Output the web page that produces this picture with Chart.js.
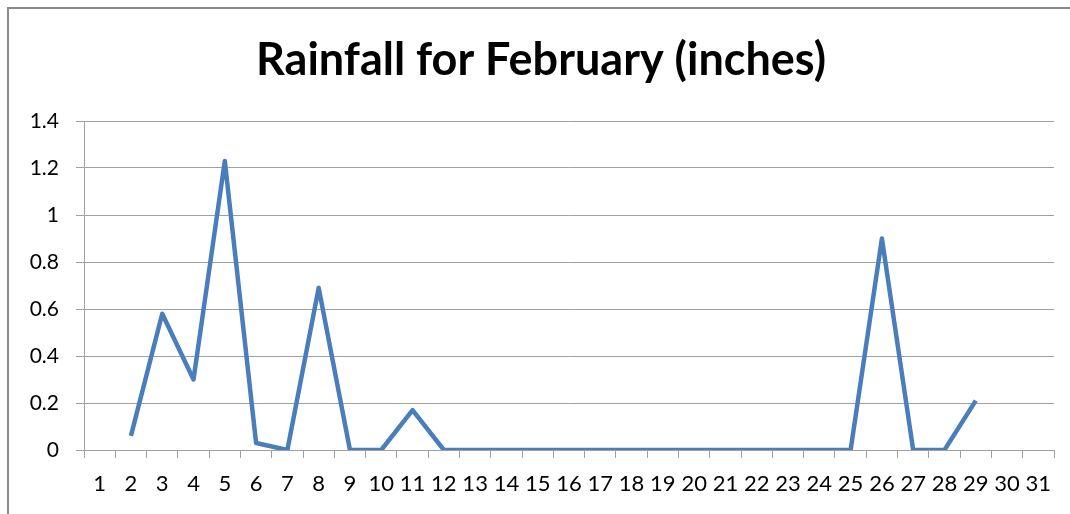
<!DOCTYPE html>
<html>
<head>
<meta charset="utf-8">
<script src="https://cdn.jsdelivr.net/npm/chart.js@4"></script>
<style>
html, body { margin:0; padding:0; background:#fff; }
#wrap { position:relative; width:1070px; height:514px; overflow:hidden; }
#frame { position:absolute; left:7px; top:7px; width:1100px; height:600px;
         border-left:2px solid #8a8a8a; border-top:2px solid #8a8a8a; }
#rainChart { position:absolute; left:0; top:0; }
</style>
</head>
<body>
<div id="wrap">
  <div id="frame"></div>
  <canvas id="rainChart" width="1070" height="514"></canvas>
</div>
<script>
const days = [];
for (let d = 1; d <= 31; d++) days.push(String(d));

// inches per day (no data for 1, 30, 31)
const rainfall = [null, 0.06, 0.58, 0.30, 1.23, 0.03, 0, 0.69, 0, 0,
                  0.17, 0, 0, 0, 0, 0, 0, 0, 0, 0,
                  0, 0, 0, 0, 0, 0.90, 0, 0, 0.21, null, null];

const yMin = 0, yMax = 1.4, yStep = 0.2;

const chart = new Chart(document.getElementById('rainChart'), {
    type:'line',
    data:{
        labels:days,
        datasets:[{
            label:'Rainfall',
            data:rainfall,
            borderColor:'#4a7ebb',
            borderWidth:4.5,
            borderJoinStyle:'round',
            pointRadius:0,
            tension:0,
            fill:false
        }]
    },
    options:{
        responsive:false,
        animation:false,
        layout:{ padding:{ left:28, right:16, top:0, bottom:0 } },
        plugins:{
            legend:{ display:false },
            tooltip:{ enabled:false },
            title:{
                display:true,
                text:'Rainfall for February (inches)',
                color:'#000',
                font:{ family:'Lato', size:45, weight:'bold' },
                padding:{ top:33, bottom:34 }
            }
        },
        scales:{
            x:{
                offset:true,
                grid:{ offset:true, drawOnChartArea:false, drawTicks:true, tickLength:8, color:'#a0a0a0' },
                border:{ display:true, color:'#a0a0a0' },
                ticks:{ autoSkip:false, maxRotation:0, padding:13, color:'#000',
                        font:{ family:'Lato', size:22 } },
                afterFit:function(scale){ scale.height = 64; }
            },
            y:{
                min:yMin,
                max:yMax,
                grid:{ color:'#a0a0a0', tickLength:8 },
                border:{ display:true, color:'#a0a0a0' },
                ticks:{ stepSize:yStep, padding:17, color:'#000',
                        font:{ family:'Lato', size:21 },
                        callback:function(v){ return String(parseFloat(v.toFixed(1))); } },
                afterFit:function(scale){ scale.width = 56; }
            }
        }
    }
});
</script>
</body>
</html>
